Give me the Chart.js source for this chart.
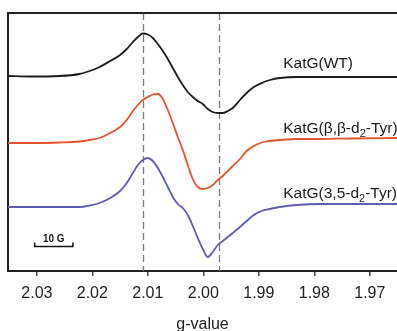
<!DOCTYPE html>
<html><head><meta charset="utf-8">
<script src="https://cdn.jsdelivr.net/npm/chart.js@4.4.1/dist/chart.umd.min.js"></script>
<style>html,body{margin:0;padding:0;background:#fff;overflow:hidden}</style>
</head><body>
<canvas id="c" width="397" height="331" style="display:block;width:397px;height:331px"></canvas>
<script>
// g-values (x axis, reversed)
const gValues = [2.0352, 2.0313, 2.0259, 2.0223, 2.0205, 2.0187, 2.0168, 2.0150, 2.0138, 2.0127,
  2.0118, 2.0109, 2.0100, 2.0091, 2.0082, 2.0073, 2.0064, 2.0055, 2.0046, 2.0037,
  2.0028, 2.0019, 2.0010, 2.0001, 1.9992, 1.9983, 1.9974, 1.9965, 1.9956, 1.9947,
  1.9934, 1.9922, 1.9909, 1.9895, 1.9880, 1.9862, 1.9832, 1.9790, 1.9736, 1.9651];
// EPR derivative signals (arbitrary units, vertically offset)
const wtSignal = [195, 194.5, 195, 197, 200, 204, 210, 216, 222, 229,
  234, 237.5, 236.5, 233, 227, 220, 212, 203, 194, 186,
  179, 174, 170, 167, 162, 159, 158, 158, 160, 163,
  171, 178, 184, 188, 191, 193, 194, 194, 194, 194];
const bbd2Signal = [128, 128, 128.5, 129.5, 131, 133, 138, 144, 151, 160,
  166, 171, 174, 176.5, 177, 172, 161, 148, 134, 121,
  106, 92, 84, 82, 83, 86, 91, 95, 100, 105,
  112, 120, 125, 128.5, 130, 131, 132, 132, 132.5, 133];
const d35Signal = [64, 64, 64, 64, 65.5, 68, 73, 80, 88, 98,
  106, 111, 113, 110, 103, 94, 84, 74, 67, 63,
  56, 45, 33, 22, 14, 19, 26, 30, 34, 38,
  44, 50, 56, 60, 62, 64, 66, 67, 67, 67];
const seriesLabels = ['KatG(WT)', 'KatG(β,β-d_2-Tyr)', 'KatG(3,5-d_2-Tyr)'];
const tickValues = [2.03, 2.02, 2.01, 2.00, 1.99, 1.98, 1.97];
const markerG = [2.0108, 1.9971];
const scaleBarG = [2.0304, 2.0235];
const scaleBarLabel = '10 G';
const axisTitle = 'g-value';

const FONT = "'Liberation Sans', Arial, Helvetica, sans-serif";
const colors = ['#1c1c1c', '#e5532d', '#5a5db3'];
const signals = [wtSignal, bbd2Signal, d35Signal];

const decor = {
  id: 'decor',
  beforeDatasetsDraw(chart) {
    const {ctx, chartArea: a, scales: {x}} = chart;
    ctx.save();
    ctx.strokeStyle = '#7a7a7a';
    ctx.lineWidth = 1.3;
    ctx.setLineDash([7, 4]);
    markerG.forEach(g => {
      const px = Math.round(x.getPixelForValue(g)) + 0.5;
      ctx.beginPath(); ctx.moveTo(px, a.top); ctx.lineTo(px, a.bottom); ctx.stroke();
    });
    ctx.restore();
  },
  afterDraw(chart) {
    const {ctx, chartArea: a, scales: {x, y}} = chart;
    ctx.save();
    // top frame
    ctx.strokeStyle = '#222'; ctx.lineWidth = 2;
    ctx.beginPath(); ctx.moveTo(a.left - 1, a.top); ctx.lineTo(a.right + 1, a.top); ctx.stroke();
    // series labels
    const lx = x.getPixelForValue(1.9856);
    const offs = [13, 9, 10];
    ctx.fillStyle = '#1a1a1a';
    ctx.textBaseline = 'middle';
    seriesLabels.forEach((lab, i) => {
      const vals = signals[i];
      const yy = y.getPixelForValue(vals[vals.length - 1]) - offs[i];
      const parts = lab.split('_');
      let cx = lx;
      parts.forEach((p, k) => {
        if (k > 0) {
          ctx.font = '11px ' + FONT;
          ctx.fillText(p[0], cx, yy + 5);
          cx += ctx.measureText(p[0]).width;
          p = p.slice(1);
        }
        ctx.font = '15.5px ' + FONT;
        ctx.fillText(p, cx, yy);
        cx += ctx.measureText(p).width;
      });
    });
    // scale bar
    const x1 = x.getPixelForValue(scaleBarG[0]), x2 = x.getPixelForValue(scaleBarG[1]);
    const by = 246.5;
    ctx.strokeStyle = '#111'; ctx.lineWidth = 1.5;
    ctx.beginPath();
    ctx.moveTo(x1, by - 4); ctx.lineTo(x1, by); ctx.lineTo(x2, by); ctx.lineTo(x2, by - 4);
    ctx.stroke();
    ctx.font = 'bold 10px ' + FONT;
    ctx.textAlign = 'center';
    ctx.fillText(scaleBarLabel, (x1 + x2) / 2, by - 7);
    ctx.restore();
  }
};

const mk = (vals, color) => ({
  data: gValues.map((g, i) => ({x: g, y: vals[i]})),
  borderColor: color, borderWidth: 1.8, pointRadius: 0,
  cubicInterpolationMode: 'monotone', fill: false
});

new Chart(document.getElementById('c'), {
  type: 'line',
  data: {datasets: signals.map((s, i) => mk(s, colors[i]))},
  options: {
    responsive: false, animation: false, devicePixelRatio: 1,
    layout: {padding: {left: 8, top: 13, right: 0, bottom: 0}},
    plugins: {legend: {display: false}, tooltip: {enabled: false}},
    scales: {
      x: {
        type: 'linear', reverse: true, min: 1.9651, max: 2.0352,
        afterBuildTicks: s => { s.ticks = tickValues.map(v => ({value: v})); },
        ticks: {callback: v => v.toFixed(2), font: {size: 16, family: FONT}, color: '#222',
                padding: 8, maxRotation: 0, autoSkip: false},
        grid: {drawOnChartArea: false, drawTicks: true, tickLength: 5, color: '#444', lineWidth: 1.5},
        border: {display: true, color: '#222', width: 2},
        title: {display: true, text: axisTitle, color: '#222',
                font: {size: 16, family: FONT, lineHeight: 0.8}, padding: {top: 7, bottom: 0}}
      },
      y: {
        type: 'linear', min: 0, max: 258,
        ticks: {display: false},
        grid: {display: false, drawTicks: false},
        border: {display: true, color: '#222', width: 2}
      }
    }
  },
  plugins: [decor]
});
</script>
</body></html>
